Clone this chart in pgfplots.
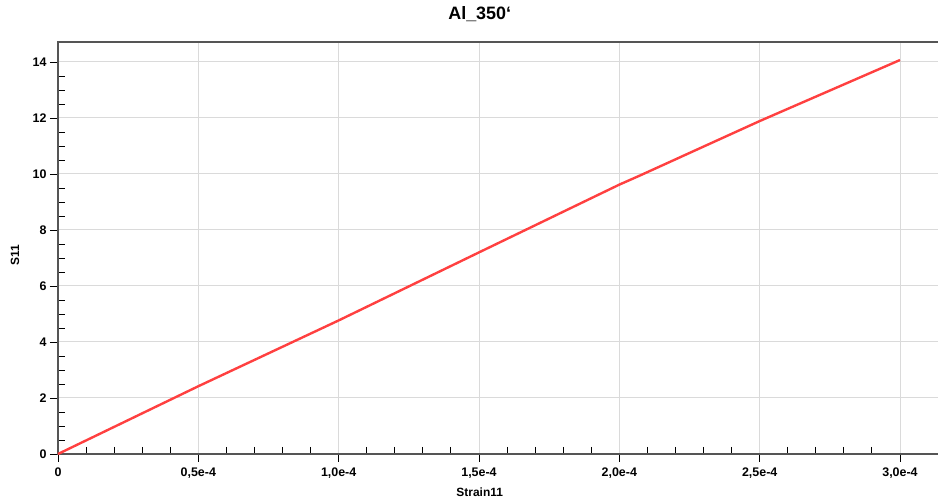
\documentclass[border=0pt]{standalone}
\usepackage{pgfplots}
\pgfplotsset{compat=1.18}
\usepackage{fontspec}
\setmainfont{Liberation Sans}
\definecolor{gridgray}{RGB}{218,218,218}
\definecolor{axgray}{RGB}{85,85,85}
\definecolor{linered}{RGB}{255,64,64}
\begin{document}
\begin{tikzpicture}[x=1bp,y=1bp]
\path[use as bounding box] (-58,-46) rectangle (880,454);
\begin{axis}[
  anchor=south west, at={(0,0)},
  scale only axis, width=886bp, height=412bp,
  xmin=0, xmax=3.1568, ymin=0, ymax=14.714,
  axis line style={axgray, line width=1.3bp},
  xtick={0,0.5,1,1.5,2,2.5,3},
  xticklabels={0,{0,5e-4},{1,0e-4},{1,5e-4},{2,0e-4},{2,5e-4},{3,0e-4}},
  ytick={0,2,4,6,8,10,12,14},
  minor x tick num=4, minor y tick num=3,
  xtick pos=bottom, ytick pos=left,
  tick align=outside,
  major tick length=8bp, minor tick length=-7bp,
  tick style={black, line width=0.9bp},
  grid=major,
  major grid style={gridgray, line width=1bp},
  ticklabel style={font=\bfseries\fontsize{12.5}{14}\selectfont},
  /pgf/number format/assume math mode=true,
  xticklabel style={yshift=-2bp},
  xlabel={Strain11},
  ylabel={S11},
  title={Al\_350\symbol{96}},
  xlabel style={at={(axis description cs:0.476,-0.092)}, anchor=center, font=\bfseries\fontsize{12}{14}\selectfont},
  ylabel style={at={(axis description cs:-0.0485,0.483)}, anchor=center, font=\bfseries\fontsize{12}{14}\selectfont},
  title style={at={(axis description cs:0.476,1.053)}, anchor=center, font=\bfseries\fontsize{18}{20}\selectfont},
  clip=false,
]
\addplot[linered, line width=2.4bp] coordinates {
  (0,0) (0.5,2.42) (1.0,4.77) (1.5,7.20) (2.0,9.62) (2.07,9.93) (2.5,11.89) (3.0,14.07)
};
\end{axis}
\end{tikzpicture}
\end{document}
